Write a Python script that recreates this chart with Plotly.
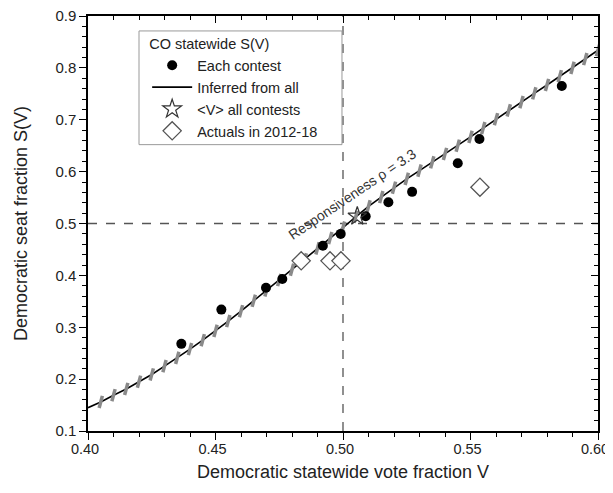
import plotly.graph_objects as go

# ---- data ----
contest_v = [0.4366, 0.4523, 0.4698, 0.4762, 0.4921, 0.4991, 0.5089, 0.5178, 0.5271, 0.5450, 0.5535, 0.5858]
contest_s = [0.268, 0.334, 0.376, 0.393, 0.457, 0.480, 0.514, 0.541, 0.561, 0.616, 0.663, 0.765]

curve_v = [0.400, 0.405, 0.410, 0.415, 0.420, 0.425, 0.430, 0.435, 0.440, 0.445,
           0.450, 0.455, 0.460, 0.465, 0.470, 0.475, 0.480, 0.485, 0.490, 0.495,
           0.500, 0.505, 0.510, 0.515, 0.520, 0.525, 0.530, 0.535, 0.540, 0.545,
           0.550, 0.555, 0.560, 0.565, 0.570, 0.575, 0.580, 0.585, 0.590, 0.595, 0.600]
curve_s = [0.145, 0.156, 0.169, 0.181, 0.195, 0.209, 0.225, 0.241, 0.258, 0.275,
           0.293, 0.312, 0.331, 0.351, 0.371, 0.391, 0.411, 0.431, 0.452, 0.472,
           0.492, 0.513, 0.533, 0.551, 0.569, 0.586, 0.602, 0.618, 0.634, 0.650,
           0.667, 0.684, 0.701, 0.718, 0.734, 0.751, 0.767, 0.784, 0.800, 0.817, 0.834]

mean_v = [0.5056]
mean_s = [0.514]

actual_v = [0.4836, 0.4949, 0.4992, 0.5537]
actual_s = [0.428, 0.428, 0.428, 0.570]

x_ticks = [0.40, 0.45, 0.50, 0.55, 0.60]
x_ticklabels = ["0.40", "0.45", "0.50", "0.55", "0.60"]
y_ticks = [0.1, 0.2, 0.3, 0.4, 0.5, 0.6, 0.7, 0.8, 0.9]
y_ticklabels = ["0.1", "0.2", "0.3", "0.4", "0.5", "0.6", "0.7", "0.8", "0.9"]

FONT = "Liberation Sans, Arial, sans-serif"
TXT = "#222222"

fig = go.Figure()

# inferred curve
fig.add_trace(go.Scatter(x=curve_v, y=curve_s, mode="lines", name="Inferred from all",
                         line=dict(color="black", width=1.6), legendrank=2))
# gray uncertainty marks along the curve
fig.add_trace(go.Scatter(x=curve_v[1:], y=curve_s[1:], mode="markers", showlegend=False,
                         marker=dict(symbol="line-ns", size=9, angle=15,
                                     line=dict(color="#8a8a8a", width=3.5)),
                         hoverinfo="skip"))
# each contest
fig.add_trace(go.Scatter(x=contest_v, y=contest_s, mode="markers", name="Each contest",
                         marker=dict(symbol="circle", size=10, color="black"), legendrank=1))
# mean
fig.add_trace(go.Scatter(x=mean_v, y=mean_s, mode="markers", name="&lt;V&gt; all contests",
                         marker=dict(symbol="star-open", size=14, color="#333333",
                                     line=dict(width=1.2)), legendrank=3))
# actuals
fig.add_trace(go.Scatter(x=actual_v, y=actual_s, mode="markers", name="Actuals in 2012-18",
                         marker=dict(symbol="diamond", size=14, color="white",
                                     line=dict(color="#555555", width=1.3)), legendrank=4))
# dummy trace for mirrored axes
fig.add_trace(go.Scatter(x=[], y=[], xaxis="x2", yaxis="y2", showlegend=False, hoverinfo="skip"))

# dashed reference lines
fig.add_shape(type="line", xref="x", yref="paper", x0=0.5, x1=0.5, y0=0, y1=1,
              line=dict(color="#555555", width=1.3, dash="dash"), layer="below")
fig.add_shape(type="line", xref="paper", yref="y", x0=0, x1=1, y0=0.5, y1=0.5,
              line=dict(color="#555555", width=1.3, dash="dash"), layer="below")
# legend frame
fig.add_shape(type="rect", xref="paper", yref="paper", x0=0.1, x1=0.498, y0=0.69, y1=0.964,
              line=dict(color="#999999", width=1), fillcolor="white", layer="above")

fig.add_annotation(x=0.5037, y=0.557, xref="x", yref="y",
                   text="Responsiveness ρ = 3.3", showarrow=False, textangle=-34,
                   font=dict(family=FONT, size=14, color="#333333"))

axis_common = dict(showline=True, linecolor="black", linewidth=1.5, showgrid=False,
                   zeroline=False, ticklen=7, tickwidth=1.3, tickcolor="black",
                   automargin=False, ticklabeloverflow="allow")

# the page body adds an 8 px offset, so the figure is sized to compensate
fig.update_layout(
    width=605, height=485,
    margin=dict(l=80, r=15, t=8, b=62),
    paper_bgcolor="white", plot_bgcolor="white",
    font=dict(family=FONT, color=TXT, size=15),
    showlegend=True,
    legend=dict(x=0.116, y=0.965, xanchor="left", yanchor="top",
                bgcolor="rgba(0,0,0,0)", borderwidth=0,
                title=dict(text="CO statewide S(V)", font=dict(size=14.5, family=FONT, color=TXT)),
                font=dict(size=14.5, family=FONT, color=TXT),
                tracegroupgap=0, itemwidth=40),
    xaxis=dict(range=[0.4, 0.6], tickvals=x_ticks, ticktext=x_ticklabels, ticks="outside",
               minor=dict(dtick=0.01, ticks="outside", ticklen=4, tickcolor="black", tickwidth=1.2),
               title=dict(text="Democratic statewide vote fraction V", font=dict(size=18), standoff=9),
               tickfont=dict(size=14.5), ticklabelstandoff=-3, ticklabelshift=-3, **axis_common),
    yaxis=dict(range=[0.1, 0.9], tickvals=y_ticks, ticktext=y_ticklabels, ticks="outside",
               minor=dict(dtick=0.02, ticks="outside", ticklen=4, tickcolor="black", tickwidth=1.2),
               title=dict(text="Democratic seat fraction S(V)", font=dict(size=18), standoff=23),
               tickfont=dict(size=15), **axis_common),
    xaxis2=dict(range=[0.4, 0.6], overlaying="x", side="top", anchor="y", tickvals=x_ticks,
                ticks="inside", showticklabels=False,
                minor=dict(dtick=0.01, ticks="inside", ticklen=4, tickcolor="black", tickwidth=1.2),
                **axis_common),
    yaxis2=dict(range=[0.1, 0.9], overlaying="y", side="right", anchor="x", tickvals=y_ticks,
                ticks="inside", showticklabels=False,
                minor=dict(dtick=0.02, ticks="inside", ticklen=4, tickcolor="black", tickwidth=1.2),
                **axis_common),
)

fig.write_html("out.html")
